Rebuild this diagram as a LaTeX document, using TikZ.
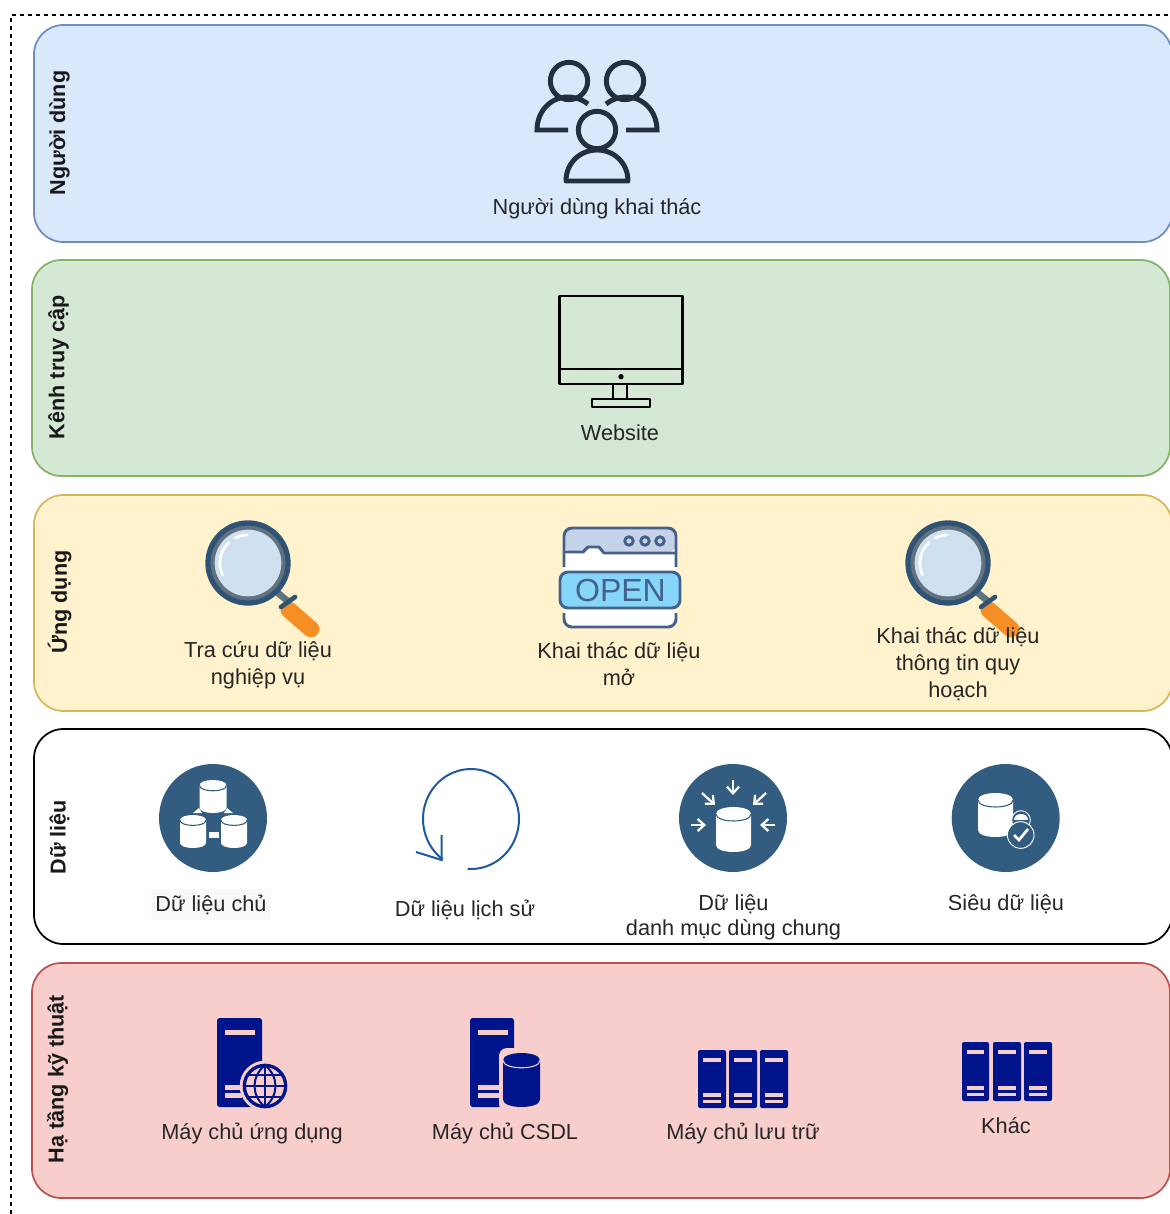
\documentclass[tikz,border=0pt]{standalone}
\usepackage{fontspec}
\setmainfont{Liberation Sans}
\usetikzlibrary{arrows.meta}
\definecolor{bluefill}{HTML}{DAE8FC}
\definecolor{blueline}{HTML}{6C8EBF}
\definecolor{greenfill}{HTML}{D5E8D4}
\definecolor{greenline}{HTML}{82B366}
\definecolor{yellowfill}{HTML}{FFF2CC}
\definecolor{yellowline}{HTML}{D6B656}
\definecolor{redfill}{HTML}{F8CECC}
\definecolor{redline}{HTML}{B85450}
\definecolor{dbblue}{HTML}{335C81}
\definecolor{srvblue}{HTML}{00148C}
\definecolor{inkdark}{HTML}{232F3E}
\definecolor{opendark}{HTML}{46608E}
\definecolor{loopblue}{HTML}{1F5AA0}
\definecolor{lensblue}{HTML}{CFE0F0}
\definecolor{handleorange}{HTML}{F68E26}
\definecolor{signcyan}{HTML}{86D6FA}
\definecolor{tabblue}{HTML}{C5D3E8}
\newcommand{\dbcyl}[6]{% x1, x2, top, bottom, fill, line
  \pgfmathsetmacro{\ry}{(#2-#1)*0.2}
  \fill[#5] (#1,#3+\ry) -- (#1,#4-\ry) .. controls (#1,#4+0.33*\ry) and (#2,#4+0.33*\ry) .. (#2,#4-\ry)
    -- (#2,#3+\ry) .. controls (#2,#3-0.33*\ry) and (#1,#3-0.33*\ry) .. (#1,#3+\ry) -- cycle;
  \draw[#6,line width=0.8pt] (#1,#3+\ry) .. controls (#1,#3+2.33*\ry) and (#2,#3+2.33*\ry) .. (#2,#3+\ry);
}
\newcommand{\srvrack}[4]{% x1, x2, top, bottom
  \fill[srvblue,rounded corners=1.5pt] (#1,#3) rectangle (#2,#4);
  \fill[redfill] (#1+5,#3+8) rectangle (#2-5,#3+11.5);
  \fill[redfill] (#1+5,#4-15) rectangle (#2-5,#4-11);
  \fill[redfill] (#1+5,#4-8.5) rectangle (#2-5,#4-5);
}
\tikzset{
  panel/.style={line width=1.3pt,rounded corners=22pt},
  lbl/.style={font=\fontsize{16.3}{20}\selectfont,text=black!85,align=center,inner sep=0pt,yshift=-1.5pt},
  layerlbl/.style={font=\fontsize{16.2}{19}\selectfont\bfseries,text=black!90,rotate=90,inner sep=0pt},
  magglass/.pic={
    \draw[gray!60!dbblue,line width=5pt] (30,30) -- (42,40);
    \draw[handleorange,line width=12.5pt,line cap=round] (41,47) -- (63,66);
    \draw[dbblue!90!black,line width=3.5pt,line cap=round] (33,44) -- (47,34);
    \fill[dbblue!90!black] (0,0) circle (32pt);
    \fill[gray!60!dbblue] (0,0) circle (28pt);
    \fill[lensblue] (0,0) circle (25pt);
    \draw[white,line width=2pt,line cap=round,variable=\t,domain=155:228,smooth] plot ({28*cos(\t)},{28*sin(\t)});
    \draw[white,line width=2pt,line cap=round,variable=\t,domain=243:268,smooth] plot ({28*cos(\t)},{28*sin(\t)});
  }
}
\begin{document}
\begin{tikzpicture}[x=0.75pt,y=-0.75pt]
\clip (0,0) rectangle (1170,1214);
\draw[thick,dashed] (11,1214) -- (11,15) -- (1170,15);
\foreach\xa/\ya/\yb/\clr in {34/25/242/blue,32/260/476/green,34/495/711/yellow,32/963/1198/red} {
  \draw[panel,draw=\clr line,fill=\clr fill] (\xa,\ya) rectangle (\xa+1138,\yb);
}
\draw[panel,draw=black,fill=white] (34,729) rectangle (1172,944);
\foreach\n/\x/\y/\t in {users/59.5/133/Người dùng,channel/58.5/367/Kênh truy cập,apps/59.5/602/Ứng dụng,data/59.5/837/Dữ liệu,infra/57.5/1079/Hạ tầng kỹ thuật} {
  \node[layerlbl] (lay\n) at (\x,\y) {\t};
}
% nguoi dung
\begin{scope}[inkdark,line width=3.7pt,line cap=butt]
\draw (569,81) circle (14pt);
\draw (625,81) circle (14pt);
\draw (597,130) circle (14pt);
\foreach\m in {1,-1} {
  \begin{scope}[shift={(597,0)},xscale=\m]
  \draw (-9,104) .. controls (-17,98) and (-24,97) .. (-29,97) .. controls (-47,97) and (-60,112) .. (-60,130) -- (-29,130);
  \end{scope}
}
\draw[line join=round] (566,181) .. controls (566,163) and (580,150) .. (597,150) .. controls (614,150) and (628,163) .. (628,181) -- cycle;
\end{scope}
\node[lbl] (userlbl) at (597,207) {Người dùng khai thác};
% website
\begin{scope}[black,line width=2pt,line join=round]
\draw (559.5,296) rectangle (682.5,384);
\draw (559.5,369) -- (682.5,369);
\fill (621,376.7) circle (2pt);
\draw (613,384) -- (613,399);
\draw (627,384) -- (627,399);
\draw (592,399) rectangle (650,407);
\end{scope}
\node[lbl] (weblbl) at (620,430.5) {Website};
% ung dung
\pic at (248,563) {magglass};
\pic at (948,563) {magglass};
\begin{scope}[opendark,line width=2.2pt,line join=round]
\fill[white,rounded corners=6pt] (564,528) rectangle (676,627);
\fill[tabblue,rounded corners=6pt] (564,552) |- (676,528) -- (676,552) -- (604,553) -- (599,547) -- (588,547) -- (583,552) -- cycle;
\draw[rounded corners=6pt] (564,567) -- (564,528) -- (676,528) -- (676,567);
\draw[line cap=round] (564,552) -- (583,552) -- (588,547) -- (599,547) -- (604,553) -- (676,553);
\foreach\x in {629,645,660} {
  \draw (\x,541) circle (3.2pt);
}
\draw[fill=signcyan,rounded corners=6pt] (560,572) rectangle (680,608);
\draw[rounded corners=6pt] (564,613) -- (564,627) -- (676,627) -- (676,613);
\end{scope}
\node[font=\fontsize{24}{24}\selectfont,text=opendark,inner sep=0pt] (opensign) at (620.5,590.5) {OPEN};
\node[lbl] (lookuplbl) at (258,663.5) {Tra cứu dữ liệu\\nghiệp vụ};
\node[lbl] (openlbl) at (619,662) {Khai thác dữ liệu\\mở};
\node[lbl] (planlbl) at (958,662) {Khai thác dữ liệu\\thông tin quy\\hoạch};
% du lieu
\foreach\x in {213,733,1005.7} {
  \fill[dbblue] (\x,818) circle (40.5pt);
}
\fill[white] (193,813) -- (199,808) -- (202,813) -- cycle;
\fill[white] (224,813) -- (227,808) -- (233,813) -- cycle;
\fill[white] (208.5,832) rectangle (218.5,838);
\dbcyl{199.5}{226.5}{780}{813}{white}{dbblue}
\dbcyl{180}{206}{815}{848}{white}{dbblue}
\dbcyl{221}{247}{815}{848}{white}{dbblue}
\node[lbl,fill=gray!5,inner xsep=3pt,inner ysep=4pt] (masterlbl) at (211,902.5) {Dữ liệu chủ};
\draw[loopblue,line width=1.5pt,variable=\t,domain=94:-234,samples=70,smooth] plot ({471+48*cos(\t)},{819+50*sin(\t)});
\draw[loopblue,line width=1.5pt] (441.7,835) -- (441.7,860) -- (416,852);
\node[lbl] (historylbl) at (465,907.5) {Dữ liệu lịch sử};
\dbcyl{716}{751}{807}{852}{white}{dbblue}
\foreach\xa/\ya/\xb/\yb in {733/780/733/795,702/793/715/805,766/793/753/805,691/825/706/825,775/825/760/825} {
  \draw[white,line width=1.7pt,-{Straight Barb[length=5pt,width=9pt]}] (\xa,\ya) -- (\xb,\yb);
}
\node[lbl,font=\fontsize{16.3}{18.7}\selectfont] (commonlbl) at (733.5,915) {Dữ liệu\\danh mục dùng chung};
\dbcyl{978}{1013}{793}{837}{white}{dbblue}
\draw[white,line width=0.7pt,fill=dbblue] (1021,820) circle (7pt);
\fill[white] (1014,820) .. controls (1014,812) and (1028,812) .. (1028,820) -- cycle;
\draw[white,line width=0.7pt,fill=dbblue] (1020.7,835) circle (10pt);
\draw[white,line width=2pt] (1014,835) -- (1019,840) -- (1028,829);
\node[lbl] (metalbl) at (1006,902.5) {Siêu dữ liệu};
% ha tang
\fill[srvblue,rounded corners=2pt] (217,1018) rectangle (262,1107);
\fill[redfill] (225,1030) rectangle (255,1035);
\fill[redfill] (225,1085) rectangle (242,1090);
\fill[redfill] (225,1093) rectangle (242,1098);
\fill[redfill] (265,1086) circle (19pt);
\begin{scope}[srvblue,line width=1.5pt]
\draw[line width=2.5pt] (265,1086) circle (15.5pt);
\draw (265,1065) .. controls (251,1077) and (251,1095) .. (265,1107);
\draw (265,1065) .. controls (279,1077) and (279,1095) .. (265,1107);
\draw (265,1065) -- (265,1107);
\draw (245,1086) -- (285,1086);
\draw (248,1075) -- (282,1075);
\draw (248,1097) -- (282,1097);
\end{scope}
\node[lbl] (appsrvlbl) at (252,1132) {Máy chủ ứng dụng};
\fill[srvblue,rounded corners=2pt] (470,1018) rectangle (514,1107);
\fill[redfill] (478,1030) rectangle (508,1035);
\fill[redfill] (478,1085) rectangle (500,1090);
\fill[redfill] (478,1093) rectangle (500,1098);
\fill[redfill,rounded corners=6pt] (499,1048) rectangle (544,1112);
\dbcyl{503}{540}{1053}{1107}{srvblue}{redfill}
\node[lbl] (dbsrvlbl) at (505,1132) {Máy chủ CSDL};
\foreach\xa/\xb in {698/726,729/757,760/788} {
  \srvrack{\xa}{\xb}{1050}{1108}
}
\node[lbl] (storelbl) at (743,1132) {Máy chủ lưu trữ};
\foreach\xa/\xb in {962/989,993/1021,1024/1052} {
  \srvrack{\xa}{\xb}{1042}{1101}
}
\node[lbl] (otherlbl) at (1006,1123.5) {Khác};
\end{tikzpicture}
\end{document}
